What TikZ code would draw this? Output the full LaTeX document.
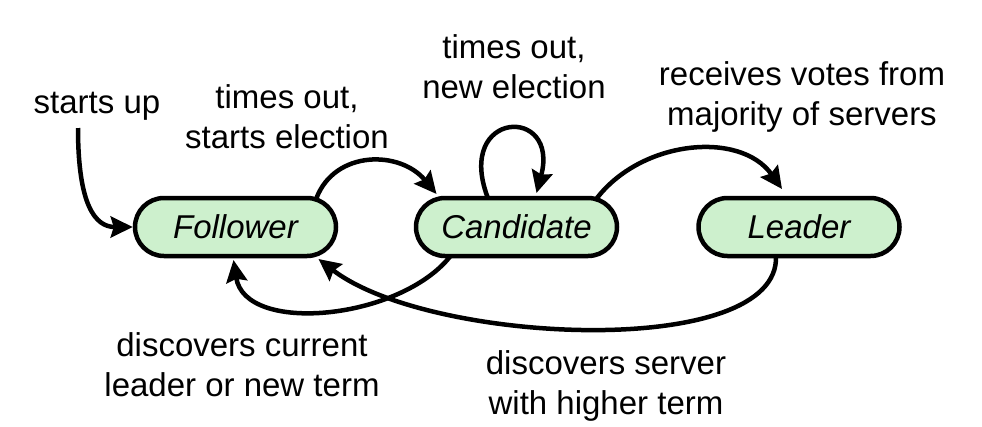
\documentclass[tikz,border=0pt]{standalone}
\usepackage{fontspec}
\setmainfont{Liberation Sans}
\usetikzlibrary{shapes.misc,arrows.meta,calc}
\definecolor{stategreen}{RGB}{205,240,205}
\begin{document}
\begin{tikzpicture}[x=1pt,y=-1pt,
 state/.style={rounded rectangle, draw=black, line width=4.5pt, fill=stategreen, minimum width=201pt, minimum height=58pt, inner sep=0pt, font=\fontsize{33}{40}\selectfont\itshape},
 lbl/.style={align=center, anchor=base, font=\fontsize{33}{40}\selectfont, inner sep=0pt},
 conn/.style={line width=4.5pt, -{Stealth[length=22pt,width=21pt,inset=3pt]}}]
\useasboundingbox (0,0) rectangle (982,426);
\node[state] (f) at (235.5,227) {Follower};
\node[state] (c) at (516.5,227) {Candidate};
\node[state] (l) at (799,227) {Leader};
\coordinate (su) at (78,128);
\draw[conn] (su) .. controls (78,205) and (95,227) .. (f.west);
\draw[conn] ($(f)+(81,-29)$) .. controls (335,150) and (400,150) .. ($(c)+(-80,-33)$);
\draw[conn] ($(c)+(-29,-30)$) .. controls (455,110) and (560,105) .. ($(c)+(20,-34)$);
\draw[conn] ($(c)+(79,-27)$) .. controls (640,140) and (740,130) .. ($(l)+(-17,-38)$);
\draw[conn] ($(c)+(-66,29)$) .. controls (400,320) and (245,335) .. ($(f)+(-2,33)$);
\draw[conn] ($(l)+(-23,29)$) .. controls (780,360) and (430,345) .. ($(f)+(83,32)$);
\node[lbl] (t1) at (97,113) {starts up};
\node[lbl] (t2) at (287,148) {times out,\\starts election};
\node[lbl] (t3) at (514,98) {times out,\\new election};
\node[lbl] (t4) at (802,125) {receives votes from\\majority of servers};
\node[lbl] (t5) at (242,396) {discovers current\\leader or new term};
\node[lbl] (t6) at (606,414) {discovers server\\with higher term};
\end{tikzpicture}
\end{document}
